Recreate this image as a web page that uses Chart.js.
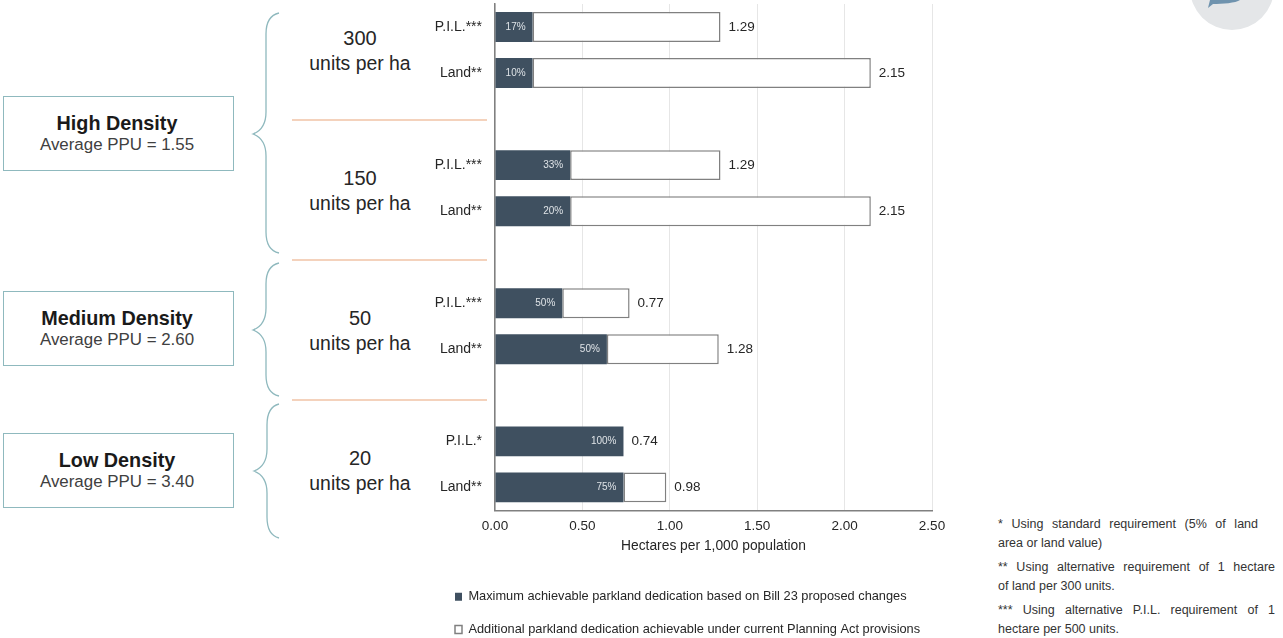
<!DOCTYPE html>
<html lang="en">
<head>
    <meta charset="UTF-8">
    <title>Parkland dedication by density</title>
    <script src="https://cdn.jsdelivr.net/npm/chart.js"></script>
    <style>
        html, body {
            margin: 0;
            width: 1283px;
            height: 638px;
            overflow: hidden;
            background: #fff;
            font-family: "Liberation Sans", Arial, sans-serif;
            color: #262626;
        }
        #art { position: absolute; left: 0; top: 0; }
        #chartBox { position: absolute; left: 435px; top: 0; width: 525px; height: 646px; }
        .box {
            position: absolute;
            left: 3px;
            width: 226px;
            padding-right: 3px;
            height: 73px;
            border: 1.5px solid #8fb9be;
            text-align: center;
        }
        .box b { display: block; margin-top: 13px; font-size: 19.8px; line-height: 26px; color: #1a1a1a; }
        .box span { display: block; font-size: 16.9px; line-height: 18px; color: #404040; }
        .units {
            position: absolute;
            left: 292px;
            width: 136px;
            text-align: center;
            font-size: 20px;
            line-height: 25px;
        }
        .units span { font-size: 19.4px; }
        .note {
            position: absolute;
            left: 998px;
            font-size: 12.5px;
            line-height: 19px;
            color: #333;
        }
        .note span { display: block; }
        .note .full { width: 277px; text-align: justify; text-align-last: justify; }
    </style>
</head>
<body>
    <svg id="art" width="1283" height="638">
        <!-- logo corner -->
        <circle cx="1232" cy="-12" r="42" fill="#e4e6e8"/>
        <path d="M1208 8 L1210 0 L1240 0 C1236 3 1222 4 1213 4 Z" fill="#6f93ae"/>
        <!-- braces -->
        <g fill="none" stroke="#8fb9be" stroke-width="1.3">
            <path d="M279 13 C270 15 266 22 266 34 L266 112 C266 124 261 131 253 134 C261 137 266 144 266 156 L266 232 C266 244 270 251 279 253"/>
            <path d="M279 263 C270 265 266 272 266 284 L266 308 C266 320 261 327 253 330 C261 333 266 340 266 352 L266 375 C266 387 270 394 279 396"/>
            <path d="M279 404 C271 406 267 413 267 425 L267 449 C267 461 262 468 254 471 C262 474 267 481 267 493 L267 517 C267 529 271 536 279 538"/>
        </g>
        <!-- group separators -->
        <g stroke="#f0c3a6" stroke-width="1.6">
            <line x1="292" y1="120" x2="487" y2="120"/>
            <line x1="292" y1="260" x2="487" y2="260"/>
            <line x1="292" y1="400" x2="487" y2="400"/>
        </g>
    </svg>

    <div class="box" style="top:96px"><b>High Density</b><span>Average PPU = 1.55</span></div>
    <div class="box" style="top:291px"><b>Medium Density</b><span>Average PPU = 2.60</span></div>
    <div class="box" style="top:433px"><b>Low Density</b><span>Average PPU = 3.40</span></div>

    <div class="units" style="top:26px">300<br><span>units per ha</span></div>
    <div class="units" style="top:166px">150<br><span>units per ha</span></div>
    <div class="units" style="top:306px">50<br><span>units per ha</span></div>
    <div class="units" style="top:446px">20<br><span>units per ha</span></div>

    <div id="chartBox"><canvas id="chartCanvas" width="525" height="646"></canvas></div>

    <div class="note" style="top:515px"><span class="full" style="width:260px">* Using standard requirement (5% of land</span><span>area or land value)</span></div>
    <div class="note" style="top:558px"><span class="full">** Using alternative requirement of 1 hectare</span><span>of land per 300 units.</span></div>
    <div class="note" style="top:601px"><span class="full">*** Using alternative P.I.L. requirement of 1</span><span>hectare per 500 units.</span></div>

    <script>
        // blank categories are the gaps between density groups
        var categories = ['P.I.L.***', 'Land**', '', 'P.I.L.***', 'Land**', '', 'P.I.L.***', 'Land**', '', 'P.I.L.*', 'Land**'];
        var maxAchievable = [0.215, 0.215, null, 0.43, 0.43, null, 0.385, 0.64, null, 0.735, 0.735];
        var additional = [1.075, 1.935, null, 0.86, 1.72, null, 0.385, 0.64, null, 0, 0.245];
        var totals = ['1.29', '2.15', null, '1.29', '2.15', null, '0.77', '1.28', null, '0.74', '0.98'];
        var shares = ['17%', '10%', null, '33%', '20%', null, '50%', '50%', null, '100%', '75%'];
        var legendLabels = [
            'Maximum achievable parkland dedication based on Bill 23 proposed changes',
            'Additional parkland dedication achievable under current Planning Act provisions'
        ];

        var fontFamily = '"Liberation Sans", Arial, sans-serif';

        // writes the share inside the dark bar and the total after the whole bar
        var barLabels = {
            id: 'barLabels',
            afterDatasetsDraw: function(chart) {
                var ctx = chart.ctx;
                var dark = chart.getDatasetMeta(0).data;
                var light = chart.getDatasetMeta(1).data;
                ctx.save();
                ctx.textBaseline = 'middle';
                categories.forEach(function(c, i) {
                    if (totals[i] === null) return;
                    ctx.font = '10px ' + fontFamily;
                    ctx.fillStyle = '#dfe3e7';
                    ctx.textAlign = 'right';
                    ctx.fillText(shares[i], dark[i].x - 7, dark[i].y);
                    ctx.font = '13.5px ' + fontFamily;
                    ctx.fillStyle = '#262626';
                    ctx.textAlign = 'left';
                    ctx.fillText(totals[i], light[i].x + 8, light[i].y);
                });
                ctx.restore();
            }
        };

        var ctx = document.getElementById('chartCanvas').getContext('2d');
        new Chart(ctx, {
            type: 'bar',
            data: {
                labels: categories,
                datasets: [{
                    label: legendLabels[0],
                    data: maxAchievable,
                    backgroundColor: '#3f5060',
                    borderColor: '#3f5060',
                    borderWidth: 0
                }, {
                    label: legendLabels[1],
                    data: additional,
                    backgroundColor: '#ffffff',
                    borderColor: '#808080',
                    borderWidth: 1.5,
                    borderSkipped: false
                }]
            },
            plugins: [barLabels],
            options: {
                indexAxis: 'y',
                responsive: false,
                animation: false,
                barPercentage: 0.65,
                categoryPercentage: 1,
                layout: { padding: { top: 4, right: 28 } },
                plugins: {
                    tooltip: { enabled: false },
                    legend: {
                        position: 'bottom',
                        align: 'start',
                        labels: {
                            boxWidth: 7,
                            boxHeight: 8,
                            padding: 20,
                            color: '#262626',
                            font: { family: fontFamily, size: 12.8 }
                        }
                    }
                },
                scales: {
                    x: {
                        stacked: true,
                        min: 0,
                        max: 2.5,
                        afterFit: function(scale) { scale.height = 60; },
                        grid: { color: '#e6e6e6', drawTicks: false },
                        border: { color: '#808080', width: 1.5 },
                        ticks: {
                            stepSize: 0.5,
                            padding: 8,
                            color: '#262626',
                            font: { family: fontFamily, size: 13.5 },
                            callback: function(v) { return v.toFixed(2); }
                        },
                        title: {
                            display: true,
                            text: 'Hectares per 1,000 population',
                            color: '#262626',
                            padding: { top: 0, bottom: 16 },
                            font: { family: fontFamily, size: 13.8 }
                        }
                    },
                    y: {
                        stacked: true,
                        // no label overhang above the plot, it has to start near the page top
                        afterFit: function(scale) {
                            scale.width = 60;
                            scale.paddingTop = 0;
                            scale.paddingBottom = 0;
                        },
                        grid: { display: false, drawTicks: false },
                        border: { color: '#808080', width: 1.5 },
                        ticks: {
                            autoSkip: false,
                            padding: 13,
                            color: '#262626',
                            font: { family: fontFamily, size: 14 }
                        }
                    }
                }
            }
        });
    </script>
</body>
</html>
